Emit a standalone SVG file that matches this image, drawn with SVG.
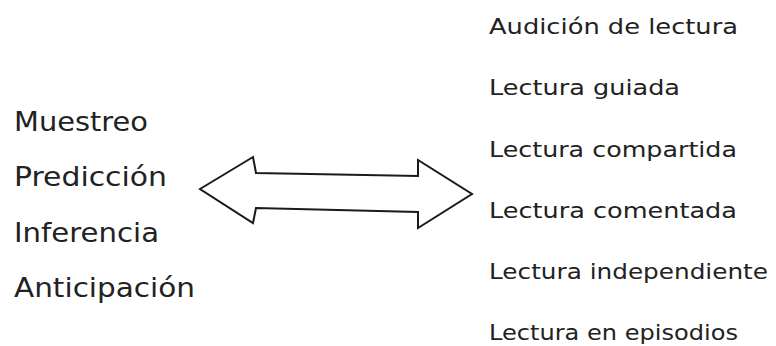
<svg xmlns="http://www.w3.org/2000/svg" width="776" height="346" viewBox="0 0 776 346">
<style>
.t{font-family:"DejaVu Sans","Liberation Sans",sans-serif;fill:#222;}
.l{font-size:27px;}
.r{font-size:21.5px;}
.arrow{fill:#fff;stroke:#1a1a1a;stroke-width:2;stroke-linejoin:miter;}
</style>
<rect width="776" height="346" fill="#fff"/>
<g id="left-list">
<text class="t l" x="14" y="131" textLength="134" lengthAdjust="spacingAndGlyphs">Muestreo</text>
<text class="t l" x="14" y="186" textLength="153" lengthAdjust="spacingAndGlyphs">Predicción</text>
<text class="t l" x="14" y="242" textLength="145" lengthAdjust="spacingAndGlyphs">Inferencia</text>
<text class="t l" x="14" y="297" textLength="181" lengthAdjust="spacingAndGlyphs">Anticipación</text>
</g>
<g id="connectors">
<path class="arrow" d="M200,189 L253,157 L256,173 L418,176 L418,160 L472,194 L418,228 L418,212 L256,208 L253,223 Z"/>
</g>
<g id="right-list">
<text class="t r" x="489" y="34" textLength="249" lengthAdjust="spacingAndGlyphs">Audición de lectura</text>
<text class="t r" x="489" y="95" textLength="191" lengthAdjust="spacingAndGlyphs">Lectura guiada</text>
<text class="t r" x="489" y="157" textLength="248" lengthAdjust="spacingAndGlyphs">Lectura compartida</text>
<text class="t r" x="489" y="218" textLength="248" lengthAdjust="spacingAndGlyphs">Lectura comentada</text>
<text class="t r" x="489" y="279" textLength="279" lengthAdjust="spacingAndGlyphs">Lectura independiente</text>
<text class="t r" x="489" y="340" textLength="249" lengthAdjust="spacingAndGlyphs">Lectura en episodios</text>
</g>
</svg>
